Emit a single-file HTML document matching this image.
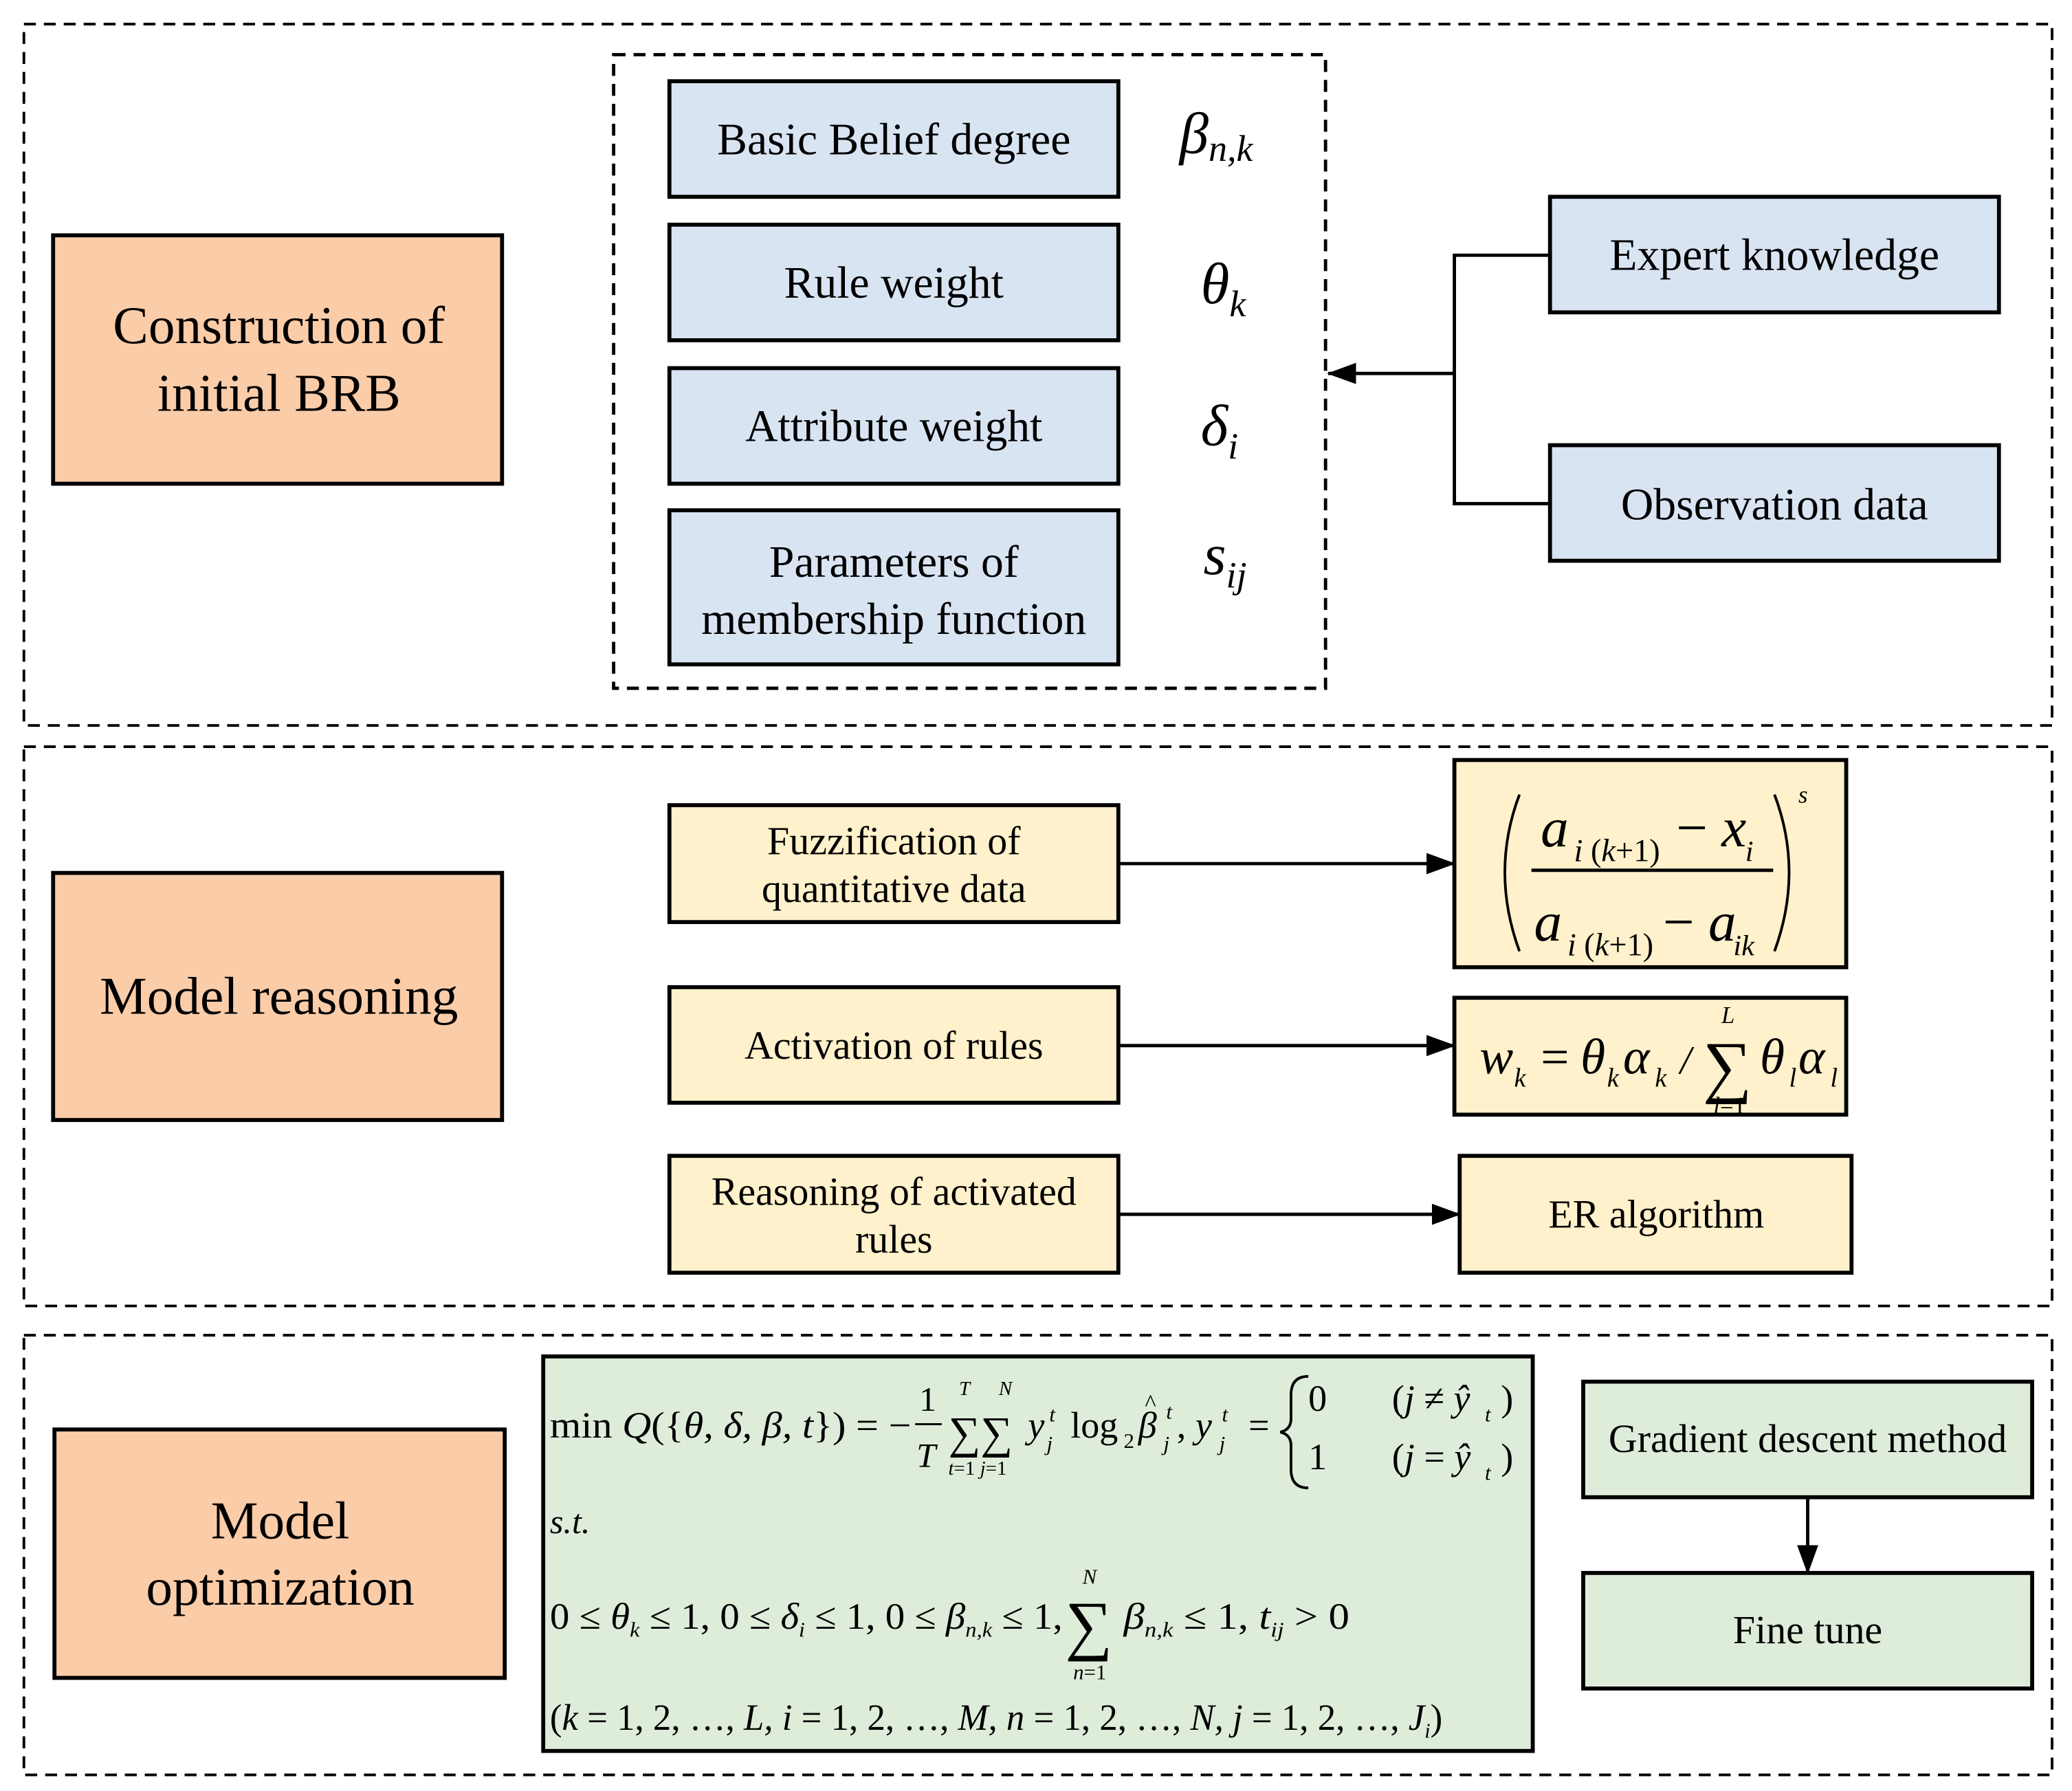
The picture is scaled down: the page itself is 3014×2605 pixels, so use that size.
<!DOCTYPE html>
<html><head><meta charset="utf-8"><style>
html,body{margin:0;padding:0;background:#fff}
svg{display:block}
text{font-family:"Liberation Serif",serif;fill:#000}
.m{font-style:italic}
.n{font-style:normal}
</style></head><body>
<svg width="3014" height="2605" viewBox="0 0 1560 1348" xmlns="http://www.w3.org/2000/svg">
<defs><marker id="b" markerWidth="22" markerHeight="16" refX="21" refY="8" orient="auto" markerUnits="userSpaceOnUse"><path d="M0,0 L22,8 L0,16z" fill="#000"/></marker></defs>
<g fill="none" stroke="#000" stroke-width="2" stroke-dasharray="9,6">
<rect x="18" y="18" width="1527" height="528"/>
<rect x="462" y="41" width="536" height="477" stroke-width="2.5"/>
<rect x="18" y="562" width="1527" height="421"/>
<rect x="18" y="1005" width="1527" height="331"/>
</g>
<g stroke="#000" stroke-width="3">
<rect x="40" y="177" width="338" height="187" fill="#fbcca8"/>
<rect x="40" y="657" width="338" height="186" fill="#fbcca8"/>
<rect x="41" y="1076" width="339" height="187" fill="#fbcca8"/>
<g fill="#d9e4f3">
<rect x="504" y="61" width="338" height="87"/>
<rect x="504" y="169" width="338" height="87"/>
<rect x="504" y="277" width="338" height="87"/>
<rect x="504" y="384" width="338" height="116"/>
<rect x="1167" y="148" width="338" height="87"/>
<rect x="1167" y="335" width="338" height="87"/>
</g>
<g fill="#fff1cb">
<rect x="504" y="606" width="338" height="88"/>
<rect x="504" y="743" width="338" height="87"/>
<rect x="504" y="870" width="338" height="88"/>
<rect x="1095" y="572" width="295" height="156"/>
<rect x="1095" y="751" width="295" height="88"/>
<rect x="1099" y="870" width="295" height="88"/>
</g>
<g fill="#deedda">
<rect x="409" y="1021" width="745" height="297"/>
<rect x="1192" y="1040" width="338" height="87"/>
<rect x="1192" y="1184" width="338" height="87"/>
</g>
</g>
<g fill="none" stroke="#000" stroke-width="2.5">
<path d="M1167,192 H1095 V379 H1167"/>
<path d="M1095,281 H1000" marker-end="url(#b)"/>
<path d="M842,650 H1095" marker-end="url(#b)"/>
<path d="M842,787 H1095" marker-end="url(#b)"/>
<path d="M842,914 H1099" marker-end="url(#b)"/>
<path d="M1361,1127 V1184" marker-end="url(#b)"/>
</g>
<g font-size="40" text-anchor="middle">
<text x="210" y="258">Construction of</text>
<text x="210" y="309">initial BRB</text>
<text x="210" y="763">Model reasoning</text>
<text x="211" y="1158">Model</text>
<text x="211" y="1208">optimization</text>
</g>
<g font-size="34" text-anchor="middle">
<text x="673" y="116">Basic Belief degree</text>
<text x="673" y="224">Rule weight</text>
<text x="673" y="332">Attribute weight</text>
<text x="673" y="434">Parameters of</text>
<text x="673" y="477">membership function</text>
<text x="1336" y="203">Expert knowledge</text>
<text x="1336" y="391">Observation data</text>
</g>
<g font-size="30" text-anchor="middle">
<text x="673" y="643">Fuzzification of</text>
<text x="673" y="679">quantitative data</text>
<text x="673" y="797">Activation of rules</text>
<text x="673" y="907">Reasoning of activated</text>
<text x="673" y="943">rules</text>
<text x="1247" y="924">ER algorithm</text>
<text x="1361" y="1093">Gradient descent method</text>
<text x="1361" y="1237">Fine tune</text>
</g>
<g class="m">
<text x="888" y="115" font-size="44">β<tspan font-size="28" dy="6">n,k</tspan></text>
<text x="904" y="228" font-size="44">θ<tspan font-size="28" dy="10">k</tspan></text>
<text x="904" y="335" font-size="44">δ<tspan font-size="28" dy="10">i</tspan></text>
<text x="906" y="432" font-size="44">s<tspan font-size="28" dy="10">ij</tspan></text>
</g>
<!-- fraction -->
<g fill="none" stroke="#000" stroke-width="2">
<path d="M1144,598 Q1122,656 1144,716"/>
<path d="M1336,598 Q1358,656 1336,716"/>
</g>
<line x1="1153" y1="655" x2="1335" y2="655" stroke="#000" stroke-width="2.5"/>
<text x="1354" y="604" font-size="18" class="m">s</text>
<text x="1160" y="637" font-size="42" class="m">a</text>
<text x="1185" y="648" font-size="24" class="m">i <tspan class="n">(</tspan>k<tspan class="n">+1)</tspan></text>
<text x="1262" y="637" font-size="42" class="n">− <tspan class="m">x</tspan></text>
<text x="1314" y="648" font-size="22" class="m">i</text>
<text x="1155" y="708" font-size="42" class="m">a</text>
<text x="1180" y="719" font-size="24" class="m">i <tspan class="n">(</tspan>k<tspan class="n">+1)</tspan></text>
<text x="1252" y="708" font-size="42" class="n">− <tspan class="m">a</tspan></text>
<text x="1305" y="719" font-size="22" class="m">ik</text>
<!-- w_k -->
<text x="1114" y="808" font-size="38" class="m">w</text>
<text x="1140" y="818" font-size="20" class="m">k</text>
<text x="1160" y="808" font-size="38" class="n">=</text>
<text x="1190" y="808" font-size="38" class="m">θ</text>
<text x="1210" y="818" font-size="20" class="m">k</text>
<text x="1222" y="808" font-size="38" class="m">α</text>
<text x="1246" y="818" font-size="20" class="m">k</text>
<text x="1265" y="808" font-size="30" class="m">/</text>
<text x="1282" y="820" font-size="52" class="n">∑</text>
<text x="1296" y="770" font-size="18" class="m">L</text>
<text x="1290" y="838" font-size="18" class="m">l<tspan class="n">=1</tspan></text>
<text x="1325" y="808" font-size="38" class="m">θ</text>
<text x="1347" y="818" font-size="20" class="m">l</text>
<text x="1354" y="808" font-size="38" class="m">α</text>
<text x="1378" y="818" font-size="20" class="m">l</text>
<!-- optimization formula -->
<g class="m">
<text x="414" y="1082" font-size="28" textLength="272" lengthAdjust="spacingAndGlyphs"><tspan class="n">min </tspan>Q<tspan class="n">({</tspan>θ, δ, β, t<tspan class="n">}) = −</tspan></text>
<text x="692" y="1062" font-size="26" class="n">1</text>
<line x1="689" y1="1072" x2="709" y2="1072" stroke="#000" stroke-width="1.5"/>
<text x="690" y="1104" font-size="26">T</text>
<text x="714" y="1090" font-size="34" class="n">∑∑</text>
<text x="722" y="1050" font-size="15">T</text><text x="752" y="1050" font-size="15">N</text>
<text x="714" y="1110" font-size="15">t<tspan class="n">=1</tspan> j<tspan class="n">=1</tspan></text>
<text x="774" y="1082" font-size="28">y</text>
<text x="790" y="1070" font-size="16">t</text><text x="788" y="1092" font-size="16">j</text>
<text x="806" y="1082" font-size="28" class="n">log</text>
<text x="846" y="1090" font-size="16" class="n">2</text>
<text x="857" y="1082" font-size="28">β</text>
<text x="862" y="1062" font-size="18" class="n">^</text>
<text x="878" y="1068" font-size="16">t</text><text x="876" y="1092" font-size="16">j</text>
<text x="886" y="1082" font-size="28"><tspan class="n">,</tspan> y</text>
<text x="920" y="1070" font-size="16">t</text><text x="918" y="1092" font-size="16">j</text>
<text x="940" y="1082" font-size="28" class="n">=</text>
<path d="M985,1036 Q972,1036 972,1050 L972,1068 Q972,1076 964,1078 Q972,1080 972,1088 L972,1106 Q972,1120 985,1120" fill="none" stroke="#000" stroke-width="2"/>
<text x="985" y="1062" font-size="28" class="n">0</text>
<text x="985" y="1106" font-size="28" class="n">1</text>
<text x="1048" y="1062" font-size="28"><tspan class="n">(</tspan>j <tspan class="n">≠</tspan> ŷ</text>
<text x="1118" y="1070" font-size="16">t</text><text x="1130" y="1062" font-size="28" class="n">)</text>
<text x="1048" y="1106" font-size="28"><tspan class="n">(</tspan>j <tspan class="n">=</tspan> ŷ</text>
<text x="1118" y="1114" font-size="16">t</text><text x="1130" y="1106" font-size="28" class="n">)</text>
<text x="414" y="1154" font-size="26">s.t.</text>
<text x="414" y="1226" font-size="28" textLength="386" lengthAdjust="spacingAndGlyphs"><tspan class="n">0 ≤ </tspan>θ<tspan font-size="16" dy="6">k</tspan><tspan dy="-6" class="n"> ≤ 1, 0 ≤ </tspan>δ<tspan font-size="16" dy="6">i</tspan><tspan dy="-6" class="n"> ≤ 1, 0 ≤ </tspan>β<tspan font-size="16" dy="6">n,k</tspan><tspan dy="-6" class="n"> ≤ 1,</tspan></text>
<text x="802" y="1240" font-size="50" class="n">∑</text>
<text x="815" y="1192" font-size="16">N</text>
<text x="808" y="1264" font-size="16">n<tspan class="n">=1</tspan></text>
<text x="846" y="1226" font-size="28" textLength="170" lengthAdjust="spacingAndGlyphs">β<tspan font-size="16" dy="6">n,k</tspan><tspan dy="-6" class="n"> ≤ 1, </tspan>t<tspan font-size="16" dy="6">ij</tspan><tspan dy="-6" class="n"> &gt; 0</tspan></text>
<text x="414" y="1302" font-size="28" textLength="672" lengthAdjust="spacingAndGlyphs"><tspan class="n">(</tspan>k<tspan class="n"> = 1, 2, …, </tspan>L, i<tspan class="n"> = 1, 2, …, </tspan>M, n<tspan class="n"> = 1, 2, …, </tspan>N, j<tspan class="n"> = 1, 2, …, </tspan>J<tspan font-size="16" dy="6">i</tspan><tspan dy="-6" class="n">)</tspan></text>
</g>
</svg>
</body></html>
